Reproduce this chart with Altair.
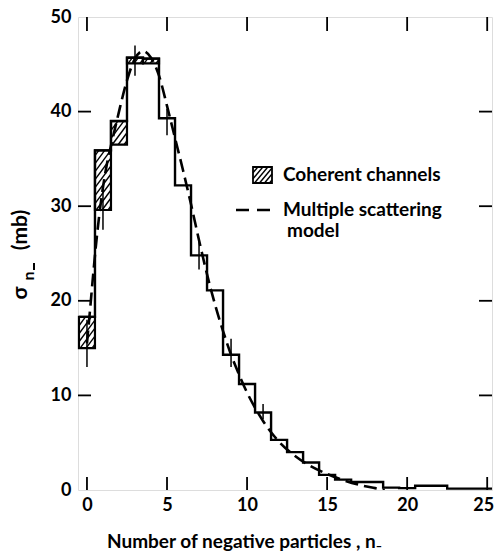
import altair as alt
import pandas as pd
import numpy as np

# ---------------- data ----------------
bin_n = list(range(26))
sigma_total = [18.3, 35.9, 39.0, 45.7, 45.6, 39.3, 32.2, 24.8, 21.1, 14.3, 11.2, 8.2, 5.3,
               4.0, 2.9, 1.6, 1.1, 0.85, 0.85, 0.25, 0.2, 0.45, 0.45, 0.15, 0.15, 0.15]

coh_n = [0, 1, 2, 3, 4]
coh_low = [15.0, 29.6, 36.5, 45.1, 45.1]
coh_high = [18.3, 35.9, 39.0, 45.7, 45.6]

err_n = [0, 1, 3, 5, 7, 9, 11]
err_low = [13.0, 27.5, 43.8, 37.5, 23.3, 13.0, 7.5]
err_high = [18.0, 31.8, 47.0, 40.3, 26.3, 16.0, 9.1]

model_n = [0, 0.2, 0.4, 0.6, 0.8, 1.0, 1.25, 1.5, 1.75, 2.0, 2.5, 3.0, 3.5, 4.0, 4.5, 5.0,
           5.5, 6.0, 6.5, 7.0, 7.5, 8.0, 8.5, 9.0, 9.5, 10.0, 10.5, 11.0, 11.5, 12, 13, 14,
           15, 16, 17, 18, 18.6]
model_sigma = [15.5, 19.2, 23.0, 26.5, 29.5, 32.0, 34.5, 36.4, 38.2, 40.0, 43.3, 45.6, 46.4,
               45.7, 43.8, 40.6, 37.2, 33.8, 30.2, 26.4, 22.8, 19.6, 16.8, 14.3, 12.2, 10.3,
               8.7, 7.3, 6.1, 5.1, 3.6, 2.5, 1.7, 1.05, 0.55, 0.2, 0.0]

x_ticks = [0, 5, 10, 15, 20, 25]
y_ticks = [0, 10, 20, 30, 40, 50]
y_inner_ticks = [10, 20, 30, 40]

x_title = "Number of negative particles , n\u208b"
y_title_main = "\u03c3"
y_title_sub = "n"
y_title_unit = "(mb)"
legend_coh = "Coherent channels"
legend_model_1 = "Multiple scattering"
legend_model_2 = "model"

# ---------------- layout ----------------
W, H = 414, 473
X_DOM = [-0.56, 25.3]
Y_DOM = [0, 50]
PX_X = W / (X_DOM[1] - X_DOM[0])
PX_Y = H / (Y_DOM[1] - Y_DOM[0])
FONT = "Lato"

xs = alt.Scale(domain=X_DOM, nice=False, zero=False)
ys = alt.Scale(domain=Y_DOM, nice=False, zero=False)

# step histogram
edges = [n - 0.5 for n in bin_n] + [bin_n[-1] + 0.5]
step_df = pd.DataFrame({"x": edges, "y": sigma_total + [sigma_total[-1]]})

coh_df = pd.DataFrame({"x": [n - 0.5 for n in coh_n], "x2": [n + 0.5 for n in coh_n],
                       "y": coh_low, "y2": coh_high})


def hatch_segments(x0, x1, y0, y1, sx, sy, slope=1.35, gap=8.0):
    """diagonal hatch lines inside a rectangle (computed in pixel units)."""
    Wp = (x1 - x0) * sx
    Hp = (y1 - y0) * sy
    segs = []
    c = -slope * Wp + gap / 2
    while c < Hp:
        xa = max(0.0, -c / slope)
        xb = min(Wp, (Hp - c) / slope)
        if xb - xa > 0.3:
            segs.append((x0 + xa / sx, y0 + (slope * xa + c) / sy,
                         x0 + xb / sx, y0 + (slope * xb + c) / sy))
        c += gap
    return segs


rows = []
for n, lo, hi in zip(coh_n, coh_low, coh_high):
    rows += hatch_segments(n - 0.5, n + 0.5, lo, hi, PX_X, PX_Y)
hatch_df = pd.DataFrame(rows, columns=["x", "y", "x2", "y2"])

err_df = pd.DataFrame({"x": err_n, "y": err_low, "y2": err_high})
model_df = pd.DataFrame({"x": model_n, "y": model_sigma})

base_axis_x = alt.Axis(values=x_ticks, domain=False, ticks=False, grid=False,
                       labelFontSize=18, labelFont=FONT, labelFontWeight="bold",
                       labelColor="black", labelPadding=6,
                       labelOffset={"condition": {"test": "datum.value == 25", "value": -4},
                                    "value": 0},
                       title=x_title,
                       titleFont=FONT, titleFontSize=19, titleFontWeight="bold",
                       titleColor="black", titleX=166, titleY=51, titleAlign="center",
                       titleBaseline="middle")
base_axis_y = alt.Axis(values=y_ticks, domain=False, ticks=False, grid=False,
                       labelFontSize=18, labelFont=FONT, labelFontWeight="bold",
                       labelColor="black", labelPadding=7, title=None)

step = alt.Chart(step_df).mark_line(interpolate="step-after", color="black",
                                    strokeWidth=2.4, clip=True).encode(
    x=alt.X("x:Q", scale=xs, axis=base_axis_x),
    y=alt.Y("y:Q", scale=ys, axis=base_axis_y),
)

coh_rect = alt.Chart(coh_df).mark_rect(fill="white", fillOpacity=0, stroke="black",
                                       strokeWidth=2.2).encode(
    x=alt.X("x:Q", scale=xs), x2="x2:Q",
    y=alt.Y("y:Q", scale=ys), y2="y2:Q",
)

hatch = alt.Chart(hatch_df).mark_rule(color="black", strokeWidth=1.4).encode(
    x=alt.X("x:Q", scale=xs), x2="x2:Q",
    y=alt.Y("y:Q", scale=ys), y2="y2:Q",
)

errs = alt.Chart(err_df).mark_rule(color="black", strokeWidth=1.5).encode(
    x=alt.X("x:Q", scale=xs),
    y=alt.Y("y:Q", scale=ys), y2="y2:Q",
)

model = alt.Chart(model_df).mark_line(color="black", strokeWidth=2.6, strokeDash=[13, 6],
                                      interpolate="monotone", clip=True).encode(
    x=alt.X("x:Q", scale=xs),
    y=alt.Y("y:Q", scale=ys),
)

# inward ticks
xt_df = pd.DataFrame({"x": x_ticks})
yt_df = pd.DataFrame({"y": y_inner_ticks})
tick_bottom = alt.Chart(xt_df).mark_rule(color="black", strokeWidth=1.8).encode(
    x=alt.X("x:Q", scale=xs), y=alt.value(H), y2=alt.value(H - 13))
tick_top = alt.Chart(xt_df).mark_rule(color="black", strokeWidth=1.8).encode(
    x=alt.X("x:Q", scale=xs), y=alt.value(0), y2=alt.value(14))
tick_left = alt.Chart(yt_df).mark_rule(color="black", strokeWidth=1.8).encode(
    y=alt.Y("y:Q", scale=ys), x=alt.value(0), x2=alt.value(13))
tick_right = alt.Chart(yt_df).mark_rule(color="black", strokeWidth=1.8).encode(
    y=alt.Y("y:Q", scale=ys), x=alt.value(W - 13), x2=alt.value(W))

# legend
one = pd.DataFrame({"k": [0]})
LX0, LX1, LY0, LY1 = 175, 194, 150, 166
icon_rect = alt.Chart(one).mark_rect(fill="white", stroke="black", strokeWidth=1.8).encode(
    x=alt.value(LX0), x2=alt.value(LX1), y=alt.value(LY0), y2=alt.value(LY1))
icon_rows = hatch_segments(LX0, LX1, LY1, LY0, 1.0, -1.0, slope=1.2, gap=6.0)
icon_df = pd.DataFrame(icon_rows, columns=["x", "y", "x2", "y2"])
icon_hatch = alt.Chart(icon_df).mark_rule(color="black", strokeWidth=1.4).encode(
    x=alt.X("x:Q", scale=None), x2="x2:Q",
    y=alt.Y("y:Q", scale=None), y2="y2:Q")


def label(txt, px, py, size=19, angle=0, align="left"):
    kw = dict(align=align, baseline="middle", font=FONT, fontSize=size,
              fontWeight="bold", color="black")
    if angle:
        kw["angle"] = angle
    return alt.Chart(pd.DataFrame({"t": [txt]})).mark_text(**kw).encode(
        x=alt.value(px), y=alt.value(py), text="t:N")


leg_dash = alt.Chart(one).mark_rule(color="black", strokeWidth=2.4,
                                    strokeDash=[13, 8]).encode(
    x=alt.value(158), x2=alt.value(199), y=alt.value(193))

# y-axis title built from pieces (sigma with subscript n-)
yt_sigma = label(y_title_main, -57, 276, size=21, angle=270, align="center")
yt_n = label(y_title_sub, -49, 259, size=16, angle=270, align="center")
yt_minus = alt.Chart(one).mark_rule(color="black", strokeWidth=2).encode(
    x=alt.value(-44), y=alt.value(246), y2=alt.value(253))
yt_unit = label(y_title_unit, -57, 213, size=21, angle=270, align="center")

chart = alt.layer(
    hatch, coh_rect, step, errs, model,
    tick_bottom, tick_top, tick_left, tick_right,
    icon_rect, icon_hatch, leg_dash,
    label(legend_coh, 205, 158),
    label(legend_model_1, 205, 193),
    label(legend_model_2, 209, 214),
    yt_sigma, yt_n, yt_minus, yt_unit,
).properties(
    width=W, height=H,
    autosize=alt.AutoSizeParams(type="none"),
    padding={"left": 78, "top": 17, "right": 3, "bottom": 62},
).configure_view(
    stroke="black", strokeWidth=2.2
).configure(background="white")

chart.save("out.html", embed_options={"renderer": "svg", "actions": False})
